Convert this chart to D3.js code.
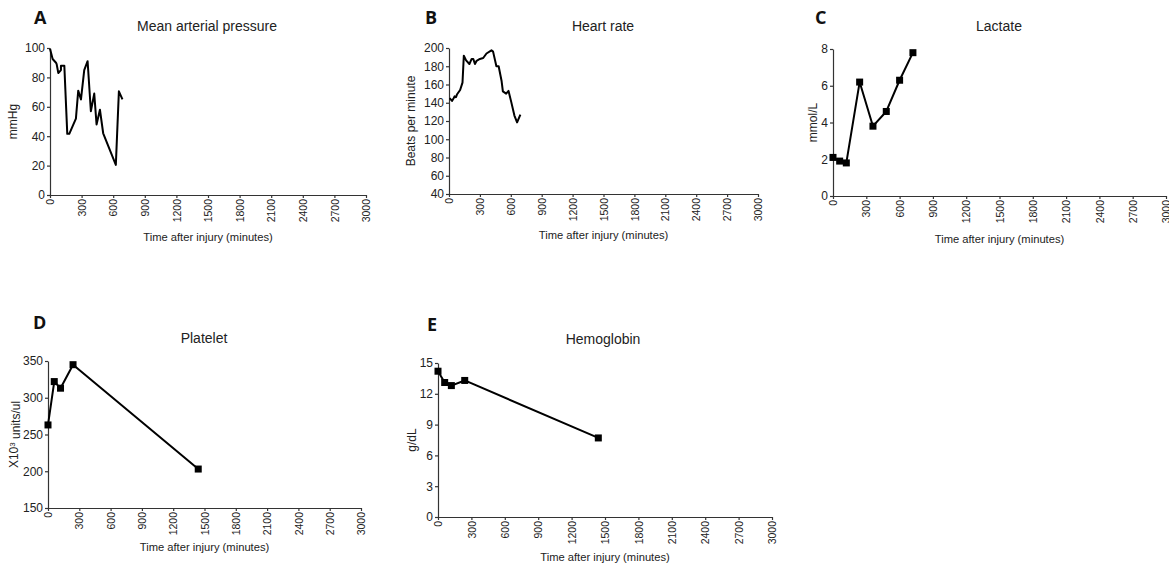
<!DOCTYPE html>
<html>
<head>
<meta charset="utf-8">
<script src="https://cdn.jsdelivr.net/npm/d3@7"></script>
<style>
  body { margin: 0; background: #fff; }
  svg { display: block; }
</style>
</head>
<body>
<div id="chart"></div>
<script>
// time axis ticks shared by every panel
const xTickValues = [0, 300, 600, 900, 1200, 1500, 1800, 2100, 2400, 2700, 3000];

// A - mean arterial pressure (mmHg)
const mapTime  = [0, 25, 57, 63, 79, 104, 104, 136, 164, 183, 246, 268, 294, 325, 357, 388, 420, 442, 474, 505, 625, 654, 688];
const mapValue = [99.5, 92.5, 90, 89, 83, 85, 88, 88, 41.6, 41.6, 52, 71, 65, 85, 91, 57, 69, 48, 58, 42, 20.5, 70.5, 65];

// B - heart rate (beats per minute)
const hrTime  = [6, 29, 45, 54, 67, 77, 108, 131, 144, 166, 198, 220, 236, 252, 268, 300, 332, 364, 412, 428, 460, 482, 511, 523, 555, 578, 603, 635, 661, 693];
const hrValue = [145, 142, 145, 147, 146, 149, 154, 162, 191.6, 186.5, 182.5, 188, 188, 182.5, 186, 188, 189, 194, 197.4, 196, 180, 180, 163.5, 152.5, 150, 153, 141.5, 126, 118.5, 127];

// C - lactate (mmol/L)
const lacTime  = [0, 60, 120, 240, 360, 480, 600, 720];
const lacValue = [2.1, 1.9, 1.8, 6.2, 3.8, 4.6, 6.3, 7.8];

// D - platelet (x10^3 units/ul)
const pltTime  = [0, 60, 120, 240, 1440];
const pltValue = [263, 322, 313, 345, 203];

// E - hemoglobin (g/dL)
const hbTime  = [0, 60, 120, 240, 1440];
const hbValue = [14.2, 13.1, 12.8, 13.3, 7.7];

const W = 1169, H = 566;
const svg = d3.select("#chart").append("svg")
    .attr("width", W).attr("height", H);

const panels = [
  {letter: "A", title: "Mean arterial pressure", ylab: "mmHg",
   time: mapTime, value: mapValue, yDomain: [0, 100], yTicks: [0, 20, 40, 60, 80, 100], markers: false,
   x0: 50, x1: 366, y0: 195, y1: 48, lx: 34, ly: 24, tx: 207, ty: 31, xly: 241, yly: 13},
  {letter: "B", title: "Heart rate", ylab: "Beats per minute",
   time: hrTime, value: hrValue, yDomain: [40, 200], yTicks: [40, 60, 80, 100, 120, 140, 160, 180, 200], markers: false,
   x0: 449, x1: 758, y0: 194, y1: 48, lx: 425, ly: 24, tx: 603, ty: 31, xly: 239, yly: 411},
  {letter: "C", title: "Lactate", ylab: "mmol/L",
   time: lacTime, value: lacValue, yDomain: [0, 8], yTicks: [0, 2, 4, 6, 8], markers: true,
   x0: 833, x1: 1166, y0: 196, y1: 49, lx: 815, ly: 24, tx: 999, ty: 31, xly: 243, yly: 813},
  {letter: "D", title: "Platelet", ylab: "X10",
   time: pltTime, value: pltValue, yDomain: [150, 350], yTicks: [150, 200, 250, 300, 350], markers: true,
   x0: 48, x1: 361, y0: 508, y1: 361, lx: 33, ly: 329, tx: 204, ty: 343, xly: 551, yly: 14},
  {letter: "E", title: "Hemoglobin", ylab: "g/dL",
   time: hbTime, value: hbValue, yDomain: [0, 15], yTicks: [0, 3, 6, 9, 12, 15], markers: true,
   x0: 438, x1: 772, y0: 517, y1: 363, lx: 427, ly: 331, tx: 603, ty: 344, xly: 561, yly: 412}
];

panels.forEach(function(p) {
  const g = svg.append("g");
  const x = d3.scaleLinear().domain([0, 3000]).range([p.x0, p.x1]);
  const y = d3.scaleLinear().domain(p.yDomain).range([p.y0, p.y1]);

  // x axis with vertical tick labels
  const xa = g.append("g")
      .attr("transform", "translate(0," + p.y0 + ")")
      .call(d3.axisBottom(x).tickValues(xTickValues).tickSizeInner(3).tickSizeOuter(0).tickFormat(d3.format("d")));
  xa.selectAll("text")
      .attr("transform", "rotate(-90)")
      .attr("x", -4).attr("y", 0).attr("dy", "0.35em")
      .style("text-anchor", "end")
      .attr("font-size", "10.5px");

  // y axis
  const ya = g.append("g")
      .attr("transform", "translate(" + p.x0 + ",0)")
      .call(d3.axisLeft(y).tickValues(p.yTicks).tickSizeInner(3).tickSizeOuter(0).tickPadding(2));
  ya.selectAll("text").attr("font-size", "12px");

  g.selectAll(".domain, .tick line").attr("stroke", "#333").attr("stroke-width", 1.2);
  g.selectAll(".tick text").attr("fill", "#222").attr("font-family", "Liberation Sans, Arial, sans-serif");

  const pts = p.time.map(function(t, i) { return [t, p.value[i]]; });
  const line = d3.line().x(function(d) { return x(d[0]); }).y(function(d) { return y(d[1]); });
  g.append("path").datum(pts)
      .attr("d", line)
      .attr("fill", "none").attr("stroke", "#000").attr("stroke-width", 2)
      .attr("stroke-linejoin", "round");

  if (p.markers) {
    g.selectAll("rect.mk").data(pts).enter().append("rect")
        .attr("class", "mk")
        .attr("x", function(d) { return x(d[0]) - 3.5; })
        .attr("y", function(d) { return y(d[1]) - 3.5; })
        .attr("width", 7).attr("height", 7)
        .attr("fill", "#000");
  }

  // panel letter
  g.append("text").attr("x", p.lx).attr("y", p.ly)
      .attr("font-family", "Open Sans, sans-serif").attr("font-weight", "bold")
      .attr("font-size", "18px").attr("fill", "#111").text(p.letter);

  // title
  g.append("text").attr("x", p.tx).attr("y", p.ty)
      .attr("text-anchor", "middle")
      .attr("font-family", "Liberation Sans, Arial, sans-serif")
      .attr("font-size", "14px").attr("fill", "#222").text(p.title);

  // x label
  g.append("text").attr("x", (p.x0 + p.x1) / 2 + 0).attr("y", p.xly)
      .attr("text-anchor", "middle")
      .attr("font-family", "Liberation Sans, Arial, sans-serif")
      .attr("font-size", "11.2px").attr("fill", "#222").text("Time after injury (minutes)");

  // y label
  const yl = g.append("text")
      .attr("transform", "translate(" + p.yly + "," + ((p.y0 + p.y1) / 2) + ") rotate(-90)")
      .attr("text-anchor", "middle").attr("dy", "0.35em")
      .attr("font-family", "Liberation Sans, Arial, sans-serif")
      .attr("font-size", "12px").attr("fill", "#222");
  yl.append("tspan").text(p.ylab);
  if (p.letter === "D") {
    yl.append("tspan").attr("dy", "-0.45em").attr("font-size", "8px").text("3");
    yl.append("tspan").attr("dy", "0.45em").text(" units/ul");
  }
});
</script>
</body>
</html>
